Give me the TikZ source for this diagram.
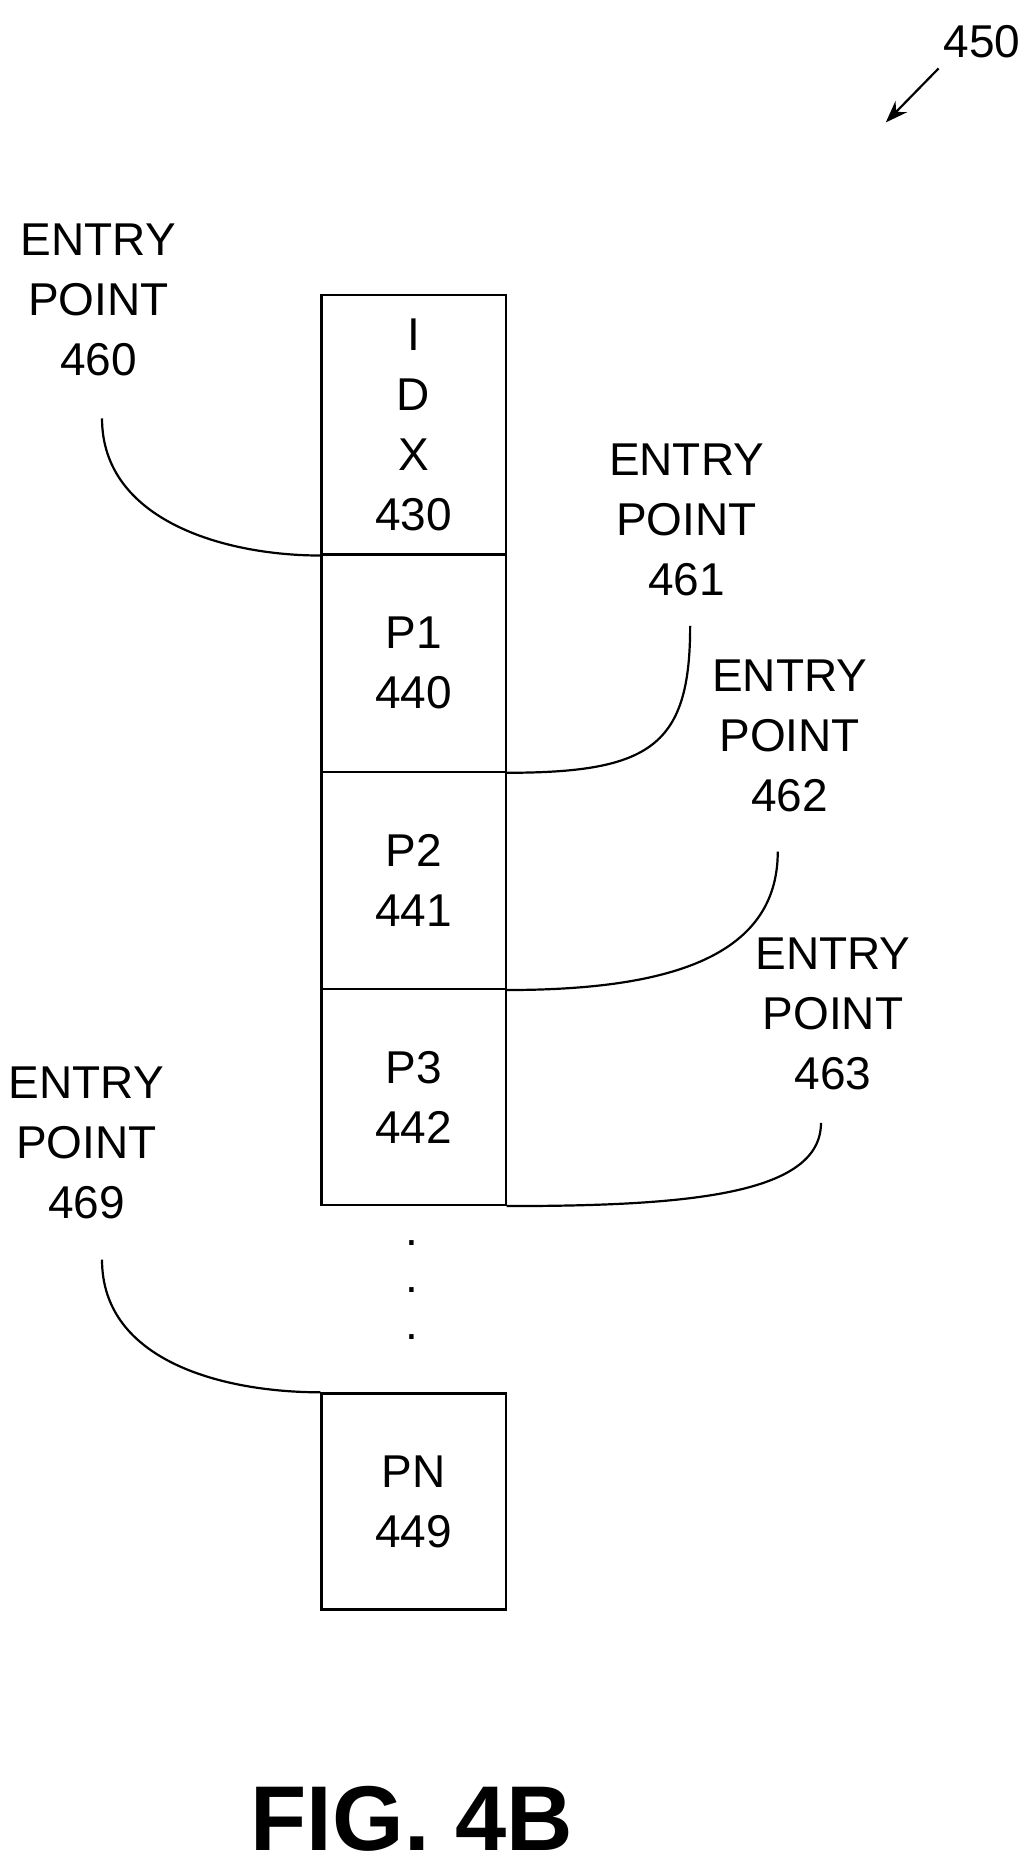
\documentclass[tikz,border=0pt]{standalone}
\usepackage{fontspec}
\setmainfont{Liberation Sans}
\usetikzlibrary{arrows.meta}
\begin{document}
\begin{tikzpicture}[x=1.2pt,y=-1.2pt,
  lbl/.style={align=center,font=\fontsize{46pt}{60pt}\selectfont,inner sep=0pt},
  cell/.style={draw,line width=2.2pt,minimum width=184pt,anchor=north west,inner sep=0pt,align=center,font=\fontsize{46pt}{60pt}\selectfont},
  con/.style={line width=2.2pt}]
\useasboundingbox (0,0) rectangle (860,1563);
\node[cell,minimum height=259.2pt] (idx) at (267,245) {I\\D\\X\\430};
\node[cell,minimum height=217.2pt] (p1) at (267,461) {P1\\440};
\node[cell,minimum height=217.2pt] (p2) at (267,642) {P2\\441};
\node[cell,minimum height=216pt] (p3) at (267,823) {P3\\442};
\node[cell,minimum height=216pt] (pn) at (267,1160) {PN\\449};
\node[lbl] (e460) at (82,250) {ENTRY\\POINT\\460};
\node[lbl] (e461) at (572,433) {ENTRY\\POINT\\461};
\node[lbl] (e462) at (658,613) {ENTRY\\POINT\\462};
\node[lbl] (e463) at (694,845) {ENTRY\\POINT\\463};
\node[lbl] (e469) at (72,952) {ENTRY\\POINT\\469};
\node[lbl] (n450) at (818,35) {450};
\node[lbl,font=\bfseries\fontsize{92pt}{92pt}\selectfont] (fig) at (343,1515) {FIG. 4B};
\node[lbl,font=\fontsize{46pt}{47pt}\selectfont] (dots) at (343,1075) {.\\.\\.};
\coordinate (a1) at (782,57);
\coordinate (a2) at (738,102);
\draw[line width=2.2pt,-{Stealth[length=22pt,width=16pt]}] (a1) -- (a2);
\draw[con] (e460.south) ++(3,35) .. controls +(0,85) and +(-80,0) .. (idx.south west);
\draw[con] (e461.south) ++(3,25) .. controls +(0,100) and +(120,0) .. (p1.south east);
\draw[con] (e462.south) ++(-10,33) .. controls +(0,90) and +(130,0) .. (p2.south east);
\draw[con] (e463.south) ++(-10,27) .. controls +(0,60) and +(150,0) .. (p3.south east);
\draw[con] (e469.south) ++(13,34) .. controls +(0,85) and +(-80,0) .. (pn.north west);
\end{tikzpicture}
\end{document}
